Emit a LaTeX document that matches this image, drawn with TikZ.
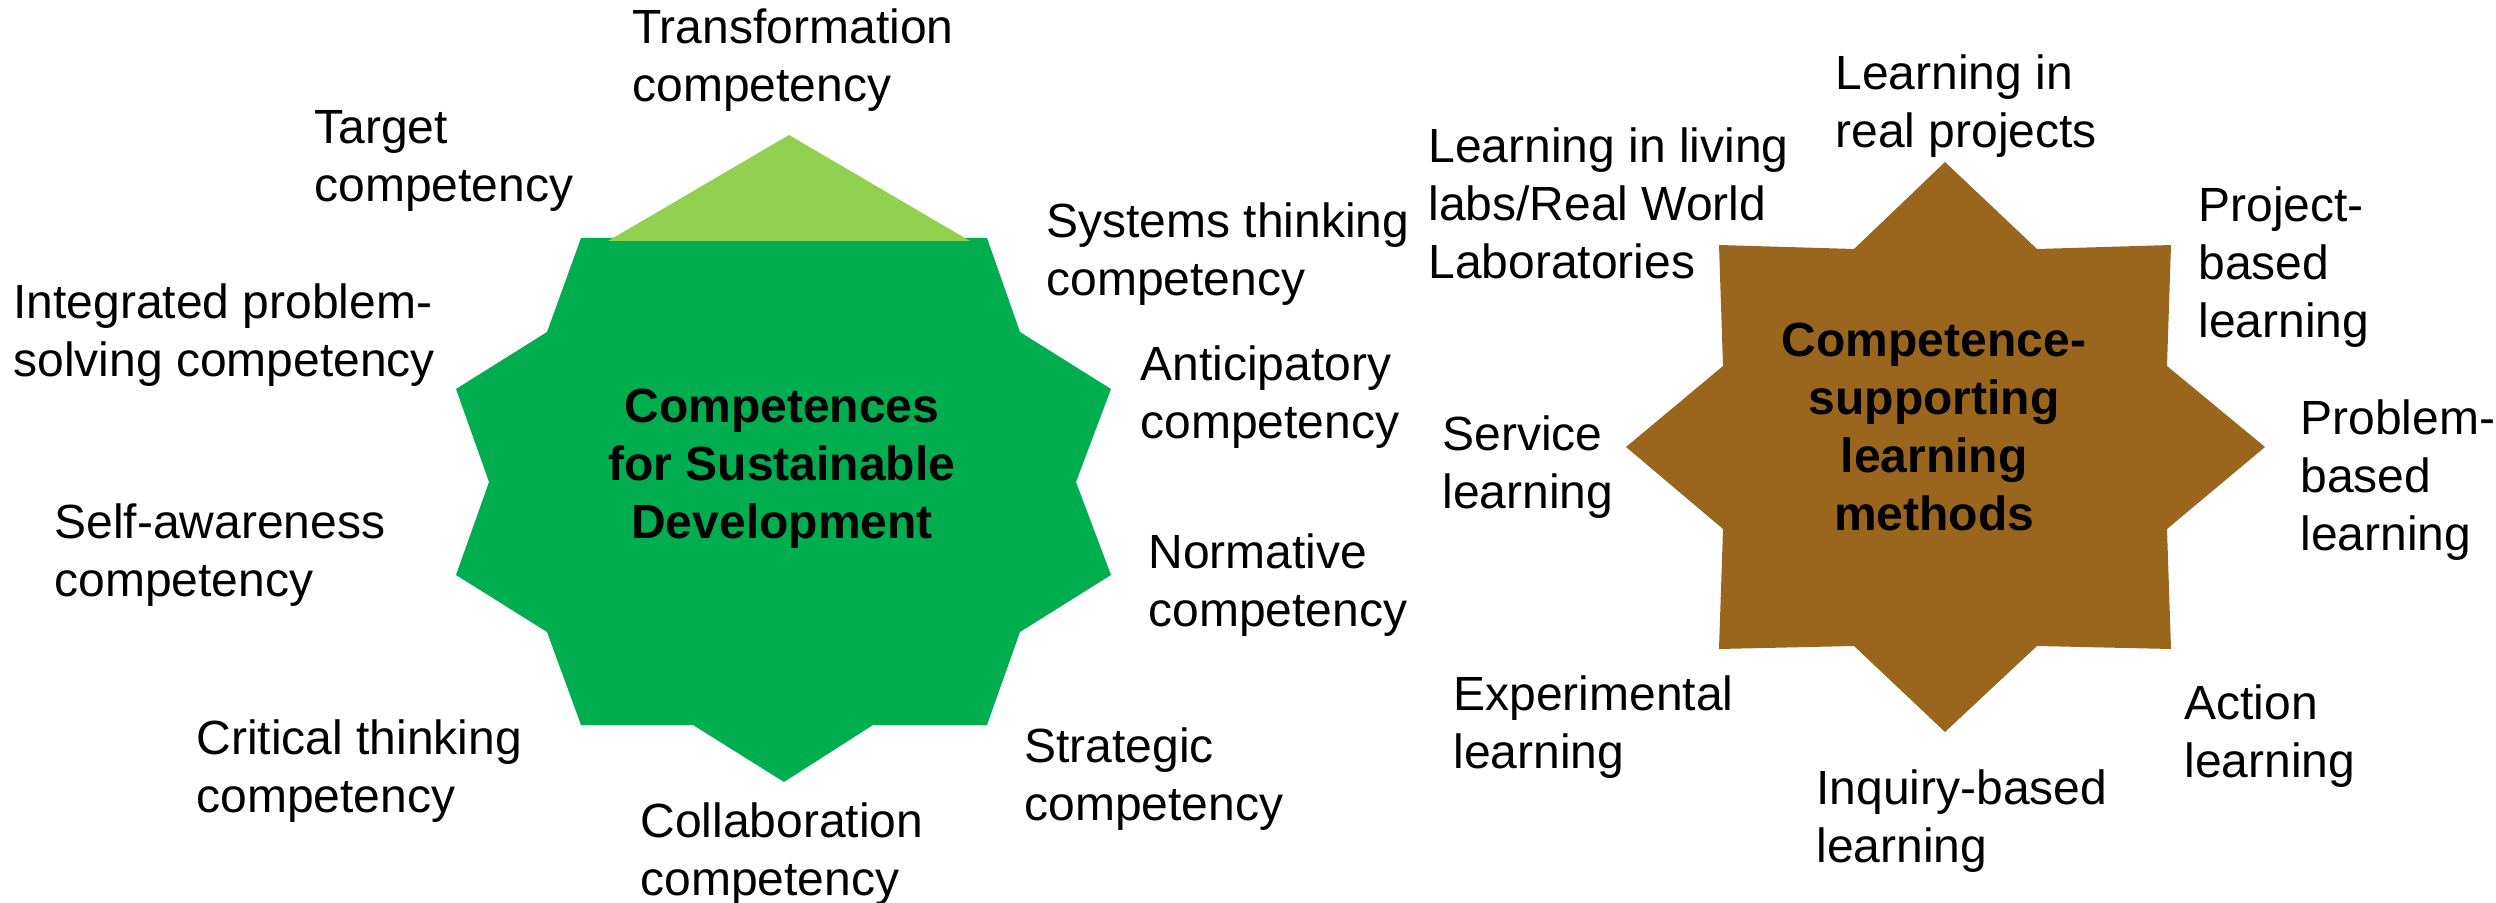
\documentclass[tikz,border=0pt]{standalone}
\usepackage{fontspec}
\setmainfont{Liberation Sans}
\definecolor{stargreen}{HTML}{00AE50}
\definecolor{lightgreen}{HTML}{92D050}
\definecolor{starbrown}{RGB}{154,102,30}
\begin{document}
\begin{tikzpicture}[x=0.5pt,y=-0.5pt,
  lbl/.style={anchor=north west,inner sep=0pt,align=left,font=\fontsize{24}{29}\selectfont},
  ttl/.style={inner sep=0pt,align=center,font=\fontsize{24}{29}\selectfont\bfseries}]
\useasboundingbox (0,0) rectangle (2496,903);
% green star
\fill[stargreen] (581,238) -- (987,238) -- (1020,332) -- (1111,389) -- (1076,482) -- (1111,575)
  -- (1020,632) -- (987,725) -- (873,725) -- (784,782) -- (693,725) -- (581,725)
  -- (547,632) -- (456,575) -- (489,482) -- (456,389) -- (547,332) -- cycle;
\fill[lightgreen] (608,241) -- (789,135) -- (970,241) -- cycle;
% brown star
\fill[starbrown] (1945,162) -- (2037,249) -- (2171,245) -- (2167,366) -- (2265,447) -- (2167,529)
  -- (2171,649) -- (2037,646) -- (1945,732) -- (1854,646) -- (1719,649) -- (1723,529)
  -- (1626,447) -- (1723,366) -- (1719,245) -- (1854,249) -- cycle;
% titles
\node[ttl] (csd) at (782,469) {Competences\\for Sustainable\\Development};
\node[ttl] (clm) at (1934,427) {Competence-\\supporting\\learning\\methods};
% left labels
\node[lbl] (trans) at (632,8) {Transformation\\competency};
\node[lbl] (target) at (314,110) {Target\\competency};
\node[lbl] (systems) at (1046,202) {Systems thinking\\competency};
\node[lbl] (integ) at (13,283) {Integrated problem-\\solving competency};
\node[lbl] (antic) at (1140,345) {Anticipatory\\competency};
\node[lbl] (self) at (54,503) {Self-awareness\\competency};
\node[lbl] (norm) at (1148,533) {Normative\\competency};
\node[lbl] (crit) at (196,719) {Critical thinking\\competency};
\node[lbl] (strat) at (1024,727) {Strategic\\competency};
\node[lbl] (collab) at (640,802) {Collaboration\\competency};
% right labels
\node[lbl] (living) at (1428,127) {Learning in living\\labs/Real World\\Laboratories};
\node[lbl] (real) at (1835,54) {Learning in\\real projects};
\node[lbl] (proj) at (2198,186) {Project-\\based\\learning};
\node[lbl] (serv) at (1442,415) {Service\\learning};
\node[lbl] (prob) at (2300,399) {Problem-\\based\\learning};
\node[lbl] (exper) at (1453,675) {Experimental\\learning};
\node[lbl] (action) at (2184,684) {Action\\learning};
\node[lbl] (inq) at (1816,769) {Inquiry-based\\learning};
\end{tikzpicture}
\end{document}
